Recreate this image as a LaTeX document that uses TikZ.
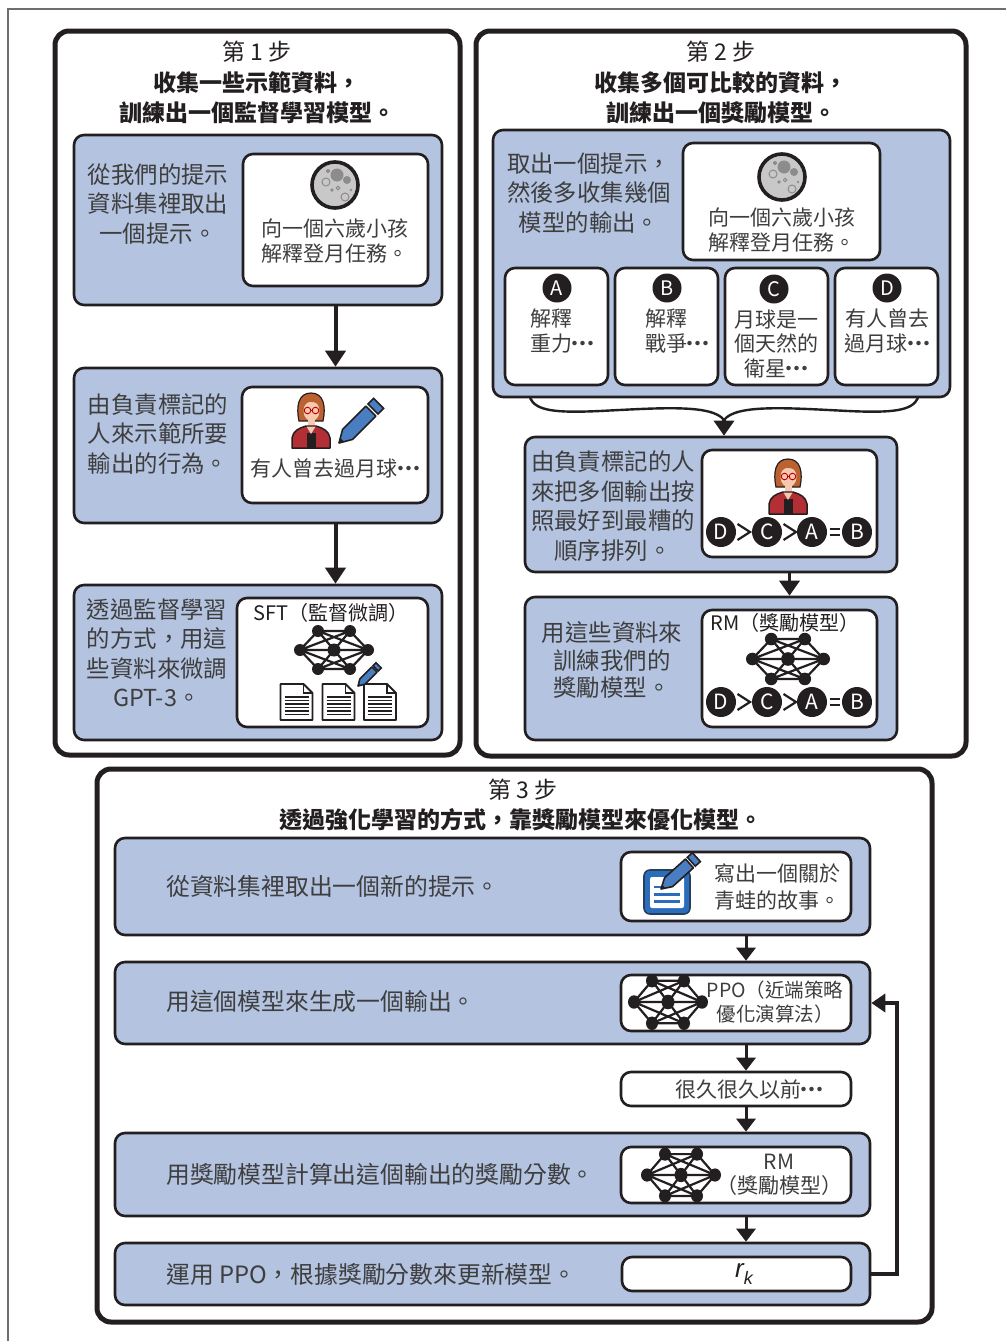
\documentclass[tikz,border=0pt]{standalone}
\usepackage{fontspec}
\setmainfont{Noto Sans CJK TC}
\newfontfamily\latinsans{Liberation Sans}
\usetikzlibrary{arrows.meta,calc}

\definecolor{boxblue}{RGB}{179,195,224}
\definecolor{ink}{RGB}{35,31,32}
\definecolor{txtgray}{RGB}{62,62,62}
\definecolor{moongray}{RGB}{200,200,200}
\definecolor{craterdark}{RGB}{140,140,140}
\definecolor{pencilblue}{RGB}{74,126,194}
\definecolor{hairbrown}{RGB}{188,98,48}
\definecolor{skintone}{RGB}{245,200,176}
\definecolor{jacketred}{RGB}{180,46,54}
\definecolor{padblue}{RGB}{42,110,187}

\newcommand\bodysize{\fontsize{23.4}{29.5}\selectfont}
\newcommand\widesize{\fontsize{23.8}{29.5}\selectfont}
\newcommand\boxsize{\fontsize{21}{24.5}\selectfont}
\newcommand\headsize{\fontsize{23}{30}\selectfont}
\newcommand\tagsize{\fontsize{20}{24}\selectfont}
% one-em centred ellipsis built from three full-width middle dots
\newcommand\mdots{\kern-0.37em·\kern-0.62em·\kern-0.62em·\kern-0.37em}

\tikzset{
  stepframe/.style={draw=ink, line width=5pt, rounded corners=14pt, fill=white, inner sep=0pt},
  bluebox/.style={draw=ink, line width=2.6pt, rounded corners=10pt, fill=boxblue, inner sep=0pt},
  whitebox/.style={draw=ink, line width=2.6pt, rounded corners=10pt, fill=white, inner sep=0pt},
  headline/.style={font=\headsize, text=ink, align=center, inner sep=0pt},
  boldhead/.style={font=\headsize\bfseries, text=ink, align=center, inner sep=0pt},
  bodylines/.style={font=\bodysize, text=txtgray, align=center, inner sep=0pt},
  boxlines/.style={font=\boxsize, text=txtgray, align=center, inner sep=0pt},
  taglines/.style={font=\tagsize, text=ink, align=center, inner sep=0pt},
  flowarrow/.style={draw=ink, line width=4pt, -{Triangle[length=16pt,width=20pt]}},
  midarrow/.style={draw=ink, line width=3.4pt, -{Triangle[length=15pt,width=20pt]}},
  thinarrow/.style={draw=ink, line width=3pt, -{Triangle[length=13pt,width=19pt]}},
  feedarrow/.style={draw=ink, line width=3.5pt, -{Triangle[length=14pt,width=18pt]}},
  pageline/.style={draw=ink!65, line width=1.2pt},
  % moon with craters
  moonpic/.pic={
    \fill[moongray] (0,0) circle (23);
    \fill[craterdark] (2,-10) circle (6.5) (12,-5) circle (4) (-7,-14) circle (2)
      (-3,5) circle (1.8) (16,5) circle (1.4);
    \draw[craterdark, line width=1pt] (-9,-3) circle (4) (3,3) circle (1.8) (10,12) circle (4);
    \draw[ink, line width=3.6pt] (0,0) circle (23);
  },
  % pencil, tip at the origin, body along +x
  pencilpic/.pic={
    \filldraw[fill=pencilblue, draw=ink, line width=1.6pt, line join=round]
      (0,0) -- (12,-7) -- (45,-7) -- (45,7) -- (12,7) -- cycle;
    \filldraw[fill=pencilblue, draw=ink, line width=1.6pt] (48,-7) rectangle (56,7);
    \fill[ink] (0,0) -- (4.5,-2.6) -- (4.5,2.6) -- cycle;
  },
  % small network of seven nodes
  netpic/.pic={
    \draw[ink, line width=2.2pt, line join=round]
      (-34,0) -- (-16,-19) -- (16,-19) -- (34,0) -- (16,19) -- (-16,19) -- cycle
      (-34,0) -- (16,-19) (-34,0) -- (16,19) (34,0) -- (-16,-19) (34,0) -- (-16,19)
      (-16,-19) -- (16,19) (16,-19) -- (-16,19) (-34,0) -- (34,0);
    \fill[ink] (-34,0) circle (6) (34,0) circle (6) (0,0) circle (6.5)
      (-16,-19) circle (6) (16,-19) circle (6) (-16,19) circle (6) (16,19) circle (6);
  },
  % annotator
  personpic/.pic={
    \filldraw[fill=hairbrown, draw=ink, line width=1.2pt]
      (-12,10) .. controls (-15,-4) and (-13,-18) .. (0,-18)
      .. controls (13,-18) and (15,-4) .. (12,10) -- cycle;
    \fill[skintone] (-3.5,6) rectangle (3.5,18);
    \fill[skintone] (0.5,0) ellipse (8 and 10);
    \fill[hairbrown] (-8.5,-1) .. controls (-8,-9) and (0,-12) .. (9,-6) -- (9,-12)
      .. controls (3,-17) and (-9,-15) .. cycle;
    \draw[red!75!black, line width=0.9pt] (-3.5,-0.5) circle (3.3) (4.5,-0.5) circle (3.3)
      (-0.2,-0.5) -- (1.2,-0.5);
    \filldraw[fill=jacketred, draw=ink, line width=1.5pt, line join=round]
      (-19,37) -- (-19,27) .. controls (-18,20) and (-12,17) .. (-5,15) -- (5,15)
      .. controls (12,17) and (18,20) .. (19,27) -- (19,37) -- cycle;
    \fill[ink] (-4.5,22) rectangle (4.5,37);
    \fill[skintone] (-4.5,15.5) -- (4.5,15.5) -- (0,23) -- cycle;
  },
  % text page
  docpic/.pic={
    \filldraw[fill=white, draw=ink, line width=1.8pt, line join=round]
      (-16,-18) -- (7,-18) -- (16,-9) -- (16,18) -- (-16,18) -- cycle;
    \draw[ink, line width=1.4pt] (7,-18) -- (7,-9) -- (16,-9);
    \foreach \yy in {-5,-1.5,2,5.5,9,12.5} {\draw[ink, line width=1.5pt] (-12,\yy) -- (12,\yy);}
  },
  % notepad with pencil
  padpic/.pic={
    \filldraw[fill=padblue, draw=ink!60!padblue, line width=1.6pt, rounded corners=6pt]
      (-23,-20) rectangle (23,24);
    \fill[white, rounded corners=2pt] (-17,-13) rectangle (17,18);
    \draw[padblue, line width=2.6pt] (-13,-3) -- (-1,-3) (-13,4.5) -- (13,4.5) (-13,11.5) -- (13,11.5);
    \pic[rotate=42, scale=0.85] at (-6,-1) {pencilpic};
  },
  % ranking D > C > A = B
  rankpic/.pic={
    \foreach \xx/\ll in {-68/D,-22/C,23/A,68/B} {
      \fill[ink] (\xx,0) circle (15);
      \node[text=white, font=\fontsize{21}{21}\selectfont, inner sep=0pt] (-\ll) at (\xx,0) {\ll};
    }
    \draw[ink, line width=2.2pt, line join=miter] (-51.5,-8) -- (-39,0) -- (-51.5,8)
      (-5.5,-8) -- (7,0) -- (-5.5,8);
    \draw[ink, line width=2.2pt] (40.5,-3.2) -- (50.5,-3.2) (40.5,3.2) -- (50.5,3.2);
  },
  lettercircle/.style={circle, fill=ink, text=white, inner sep=0pt, minimum size=29pt,
    font=\fontsize{20}{20}\selectfont},
}

\begin{document}
\begin{tikzpicture}[x=1pt,y=-1pt]
\useasboundingbox (0,0) rectangle (1006,1341);
\fill[white] (0,0) rectangle (1006,1341);
\draw[pageline] (8,1341) -- (8,9) -- (1006,9);

% ---------- the three stage frames ----------
\node[stepframe, minimum width=405pt, minimum height=724pt] (f1) at (257.5,393) {};
\node[stepframe, minimum width=490pt, minimum height=725pt] (f2) at (721,393.5) {};
\node[stepframe, minimum width=835pt, minimum height=553pt] (f3) at (514.5,1045.5) {};

% ---------- stage 1 ----------
\node[headline] (h1) at (257,52) {第 1 步};
\node[boldhead] (h1b) at (257,98) {收集一些示範資料，\\訓練出一個監督學習模型。};

\node[bluebox, minimum width=368pt, minimum height=170pt] (s1a) at (258,220) {};
\node[whitebox, minimum width=185pt, minimum height=132pt] (s1aw) at (335.5,220) {};
\pic at (335,185) {moonpic};
\node[bodylines] (s1at) at (158,204) {從我們的提示\\資料集裡取出\\一個提示。};
\node[boxlines] (s1awt) at (335,241) {向一個六歲小孩\\解釋登月任務。};

\node[bluebox, minimum width=368pt, minimum height=155pt] (s1b) at (258,445.5) {};
\node[whitebox, minimum width=186pt, minimum height=116pt] (s1bw) at (335,445) {};
\pic at (311,411) {personpic};
\pic[rotate=45] at (339,443) {pencilpic};
\node[bodylines] (s1bt) at (158,434) {由負責標記的\\人來示範所要\\輸出的行為。};
\node[boxlines] (s1bwt) at (335,468) {有人曾去過月球\mdots};

\node[bluebox, minimum width=368pt, minimum height=155pt] (s1c) at (258,662.5) {};
\node[whitebox, minimum width=191pt, minimum height=129pt] (s1cw) at (332.5,662.5) {};
\node[taglines] (s1cwt) at (331,613) {SFT（監督微調）};
\pic at (334,650) {netpic};
\pic at (296.5,702) {docpic};
\pic at (338.5,702) {docpic};
\pic at (380,702) {docpic};
\pic[rotate=45, scale=0.52] at (358,686) {pencilpic};
\node[bodylines] (s1ct) at (157,653) {透過監督學習\\的方式，用這\\些資料來微調\\GPT-3。};

\draw[flowarrow] (s1a.south -| s1aw.center) -- (s1b.north -| s1aw.center);
\draw[flowarrow] (s1b.south -| s1aw.center) -- (s1c.north -| s1aw.center);

% ---------- stage 2 ----------
\node[headline] (h2) at (721,52) {第 2 步};
\node[boldhead] (h2b) at (721,98) {收集多個可比較的資料，\\訓練出一個獎勵模型。};

\node[bluebox, minimum width=457pt, minimum height=267pt] (s2a) at (721.5,263.5) {};
\node[whitebox, minimum width=197pt, minimum height=117pt] (s2aw) at (781.5,201.5) {};
\pic at (782,177) {moonpic};
\node[boxlines] (s2awt) at (782,230) {向一個六歲小孩\\解釋登月任務。};
\node[bodylines] (s2at) at (589,193) {取出一個提示，\\然後多收集幾個\\模型的輸出。};

\node[whitebox, minimum width=103pt, minimum height=117pt] (optA) at (556.5,326.5) {};
\node[whitebox, minimum width=103pt, minimum height=117pt] (optB) at (666.5,326.5) {};
\node[whitebox, minimum width=103pt, minimum height=117pt] (optC) at (776.5,326.5) {};
\node[whitebox, minimum width=103pt, minimum height=117pt] (optD) at (886.5,326.5) {};
\node[lettercircle] (cA) at (557,288) {A};
\node[lettercircle] (cB) at (667,288) {B};
\node[lettercircle] (cC) at (774,289) {C};
\node[lettercircle] (cD) at (887,288) {D};
\node[boxlines, align=left] (tA) at (562,331) {解釋\\重力\mdots};
\node[boxlines, align=left] (tB) at (677,331) {解釋\\戰爭\mdots};
\node[boxlines] (tC) at (776,344) {月球是一\\個天然的\\衛星\mdots};
\node[boxlines] (tD) at (887,331) {有人曾去\\過月球\mdots};

% brace gathering the four answers
\coordinate (braceL) at (530,398);
\coordinate (braceR) at (918,398);
\coordinate (braceTip) at (724,420);
\draw[ink, line width=2.4pt]
  (braceL) .. controls (536,411) and (556,413) .. (600,411)
  .. controls (660,408) and (712,404) .. (braceTip)
  .. controls (736,404) and (788,408) .. (848,411)
  .. controls (892,413) and (912,411) .. (braceR);

\node[bluebox, minimum width=372pt, minimum height=135pt] (s2b) at (711,504.5) {};
\node[whitebox, minimum width=175pt, minimum height=107pt] (s2bw) at (789.5,503.5) {};
\pic at (788,477) {personpic};
\pic (rank1) at (789,532) {rankpic};
\node[bodylines] (s2bt) at (613,506) {由負責標記的人\\來把多個輸出按\\照最好到最糟的\\順序排列。};

\node[bluebox, minimum width=372pt, minimum height=143pt] (s2c) at (711,668.5) {};
\node[whitebox, minimum width=175pt, minimum height=117pt] (s2cw) at (789.5,668.5) {};
\node[taglines] (s2cwt) at (785,623) {RM（獎勵模型）};
\pic[yscale=1.05, xscale=1.05] at (788,659) {netpic};
\pic (rank2) at (789,702) {rankpic};
\node[bodylines, font=\fontsize{23.4}{27.5}\selectfont] (s2ct) at (612,660) {用這些資料來\\訓練我們的\\獎勵模型。};

\draw[midarrow] (braceTip) -- (s2b.north -| braceTip);
\draw[midarrow] (s2b.south -| s2bw.center) -- (s2c.north -| s2bw.center);

% ---------- stage 3 ----------
\node[headline] (h3) at (523,790) {第 3 步};
\node[boldhead] (h3b) at (521,820) {透過強化學習的方式，靠獎勵模型來優化模型。};

\node[bluebox, minimum width=755pt, minimum height=97pt] (s3a) at (492.5,886.5) {};
\node[whitebox, minimum width=230pt, minimum height=69pt] (s3aw) at (736,886.5) {};
\pic at (667,890) {padpic};
\node[boxlines, font=\fontsize{21}{27.5}\selectfont] (s3awt) at (777,887) {寫出一個關於\\青蛙的故事。};
\node[bodylines, font=\widesize, anchor=west] (s3at) at (166,886) {從資料集裡取出一個新的提示。};

\node[bluebox, minimum width=755pt, minimum height=82pt] (s3b) at (492.5,1003) {};
\node[whitebox, minimum width=230pt, minimum height=56pt] (s3bw) at (736,1003) {};
\pic[yscale=1.12] at (668,1002) {netpic};
\node[boxlines, font=\fontsize{19.5}{24.5}\selectfont] (s3bwt) at (775,1002) {PPO（近端策略\\優化演算法）};
\node[bodylines, font=\widesize, anchor=west] (s3bt) at (166,1001) {用這個模型來生成一個輸出。};

\node[whitebox, minimum width=230pt, minimum height=34pt] (s3t) at (736,1089) {};
\node[boxlines] (s3tt) at (749,1089) {很久很久以前\mdots};

\node[bluebox, minimum width=755pt, minimum height=83pt] (s3c) at (492.5,1174.5) {};
\node[whitebox, minimum width=230pt, minimum height=56pt] (s3cw) at (736,1175) {};
\pic[yscale=1.1] at (681,1175) {netpic};
\node[boxlines] (s3cwt) at (779,1175) {RM\\（獎勵模型）};
\node[bodylines, font=\widesize, anchor=west] (s3ct) at (166,1174) {用獎勵模型計算出這個輸出的獎勵分數。};

\node[bluebox, minimum width=755pt, minimum height=62pt] (s3d) at (492.5,1274) {};
\node[whitebox, minimum width=229pt, minimum height=34pt] (s3dw) at (736.5,1274) {};
\node[inner sep=0pt, text=ink] (s3dwt) at (744,1274)
  {\latinsans\itshape\fontsize{26}{26}\selectfont r\raisebox{-0.3em}{\fontsize{18}{18}\selectfont k}};
\node[bodylines, font=\widesize, anchor=west] (s3dt) at (166,1274) {運用 PPO，根據獎勵分數來更新模型。};

\coordinate (ax3) at (746,0);
\draw[thinarrow] (s3a.south -| ax3) -- (s3b.north -| ax3);
\draw[thinarrow] (s3b.south -| ax3) -- (s3t.north -| ax3);
\draw[thinarrow] (s3t.south -| ax3) -- (s3c.north -| ax3);
\draw[thinarrow] (s3c.south -| ax3) -- (s3d.north -| ax3);

\coordinate (fbx) at (897,0);
\draw[feedarrow] (s3d.east) -| (fbx |- s3b.east) -- (s3b.east);
\end{tikzpicture}
\end{document}
